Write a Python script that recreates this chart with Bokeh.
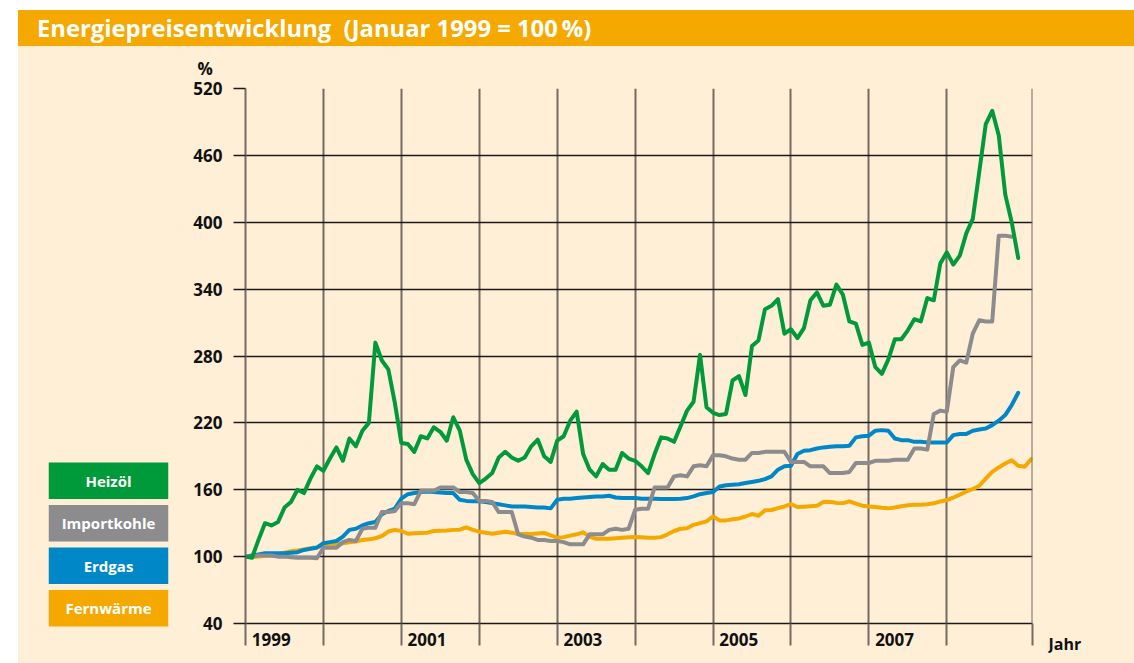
from bokeh.plotting import figure
from bokeh.models import (ColumnDataSource, Range1d, FactorRange, FixedTicker, Span, Div,
                          Spacer, CustomJSTickFormatter)
from bokeh.layouts import column, row
from bokeh.core.properties import value
from bokeh.embed import file_html
from bokeh.resources import INLINE

# ---------------- data (monthly, from January 1999) ----------------
start_year = 1999
heizoel = [100, 99, 115, 130, 128, 131, 144, 149, 160, 157,
           170, 181, 177, 188, 198, 186, 206, 199, 213, 220,
           292, 276, 268, 238, 202, 201, 194, 208, 206, 216,
           212, 204, 225, 213, 187, 174, 166, 170, 175, 189,
           194, 189, 186, 189, 199, 205, 190, 185, 204, 208,
           222, 230, 192, 178, 172, 183, 178, 178, 193, 188,
           186, 181, 175, 192, 207, 206, 203, 217, 231, 239,
           281, 234, 229, 227, 228, 258, 262, 245, 289, 294,
           322, 325, 331, 300, 304, 296, 305, 330, 337, 325,
           326, 344, 335, 311, 309, 290, 292, 270, 264, 277,
           295, 295, 303, 313, 311, 332, 330, 363, 373, 362,
           370, 390, 403, 445, 488, 500, 478, 425, 400, 368]
importkohle = [100, 100, 101, 101, 101, 100, 100, 99.5, 99, 99,
               99, 98.5, 108, 108, 108, 113, 115, 114, 125, 126,
               126, 140, 140, 141, 148, 148, 147, 159, 159, 159,
               162, 162, 162, 158, 158, 157, 150, 150, 149, 140,
               140, 140, 120, 118, 117, 115, 115, 114, 114, 113,
               111, 111, 111, 120, 120, 120, 124, 125, 124, 125,
               142, 143, 143, 162, 162, 162, 172, 173, 172, 181,
               182, 181, 191, 191, 190, 188, 187, 187, 193, 193,
               194, 194, 194, 194, 185, 185, 185, 181, 181, 181,
               175, 175, 175, 176, 184, 184, 184, 186, 186, 186,
               187, 187, 187, 197, 197, 196, 228, 231, 230, 270,
               276, 274, 300, 312, 311, 311, 388, 388, 387]
erdgas = [100, 101, 102, 103, 103, 103, 103, 103.5, 104, 106,
          107, 108, 112, 113, 114, 118, 124, 125, 128, 130,
          131, 138, 141, 143, 152, 156, 157, 158, 158.5, 158,
          157.5, 157, 157, 151, 150, 149.6, 149.6, 149, 148, 147,
          146, 145, 145, 145, 144.5, 144, 144, 143.3, 151, 152,
          152, 152.5, 153, 153.5, 154, 154, 154.6, 153, 152.6, 152.6,
          152.5, 152, 152, 152, 151.8, 151.8, 151.8, 152, 152.5, 154,
          156, 157, 158, 163, 164, 164.5, 165, 166, 167, 168,
          169.5, 172, 178, 181, 181.5, 192, 195, 195.5, 197, 198,
          198.5, 199, 199, 199.5, 207, 208, 208.5, 213, 213.5, 213,
          206, 204.5, 204.5, 203, 203, 202.5, 202.5, 202.5, 202.4, 209,
          210, 210, 213, 214, 215, 218, 222, 227, 236, 247]
fernwaerme = [100, 99.5, 100, 100.5, 101.5, 102, 103.5, 104.8, 105.5, 106.5,
              107.5, 108.5, 110, 110.5, 111.2, 112, 112.8, 113.5, 115, 115.5,
              116.5, 118.5, 122.5, 124, 123, 120.5, 121, 121.2, 121.5, 123,
              123.3, 123.5, 124, 124.2, 126.3, 124, 122.4, 121.5, 120.5, 121.5,
              122.4, 121.5, 120.3, 120.3, 120.3, 120.8, 121.2, 119, 117, 117.5,
              118.8, 120, 121.8, 118, 116, 116, 116, 116.5, 117, 117.3,
              117.5, 117.3, 117, 117, 117.5, 120, 123, 125, 125.4, 128.5,
              130, 131.6, 136, 132.5, 132.5, 133.5, 134.3, 136, 138.2, 136.7,
              141.5, 141.8, 143.5, 145, 147.2, 144.5, 144.8, 145.2, 145.7, 149,
              149.3, 148.2, 148, 149.6, 147.5, 145.7, 145, 144.5, 143.8, 143.3,
              144, 145.2, 146, 146.5, 146.6, 147, 147.8, 149.5, 150.8, 153,
              155.5, 158.5, 160.5, 163.6, 170, 176, 180, 183.5, 186.5, 181.5,
              180.6, 187.5]

series_names = ["Heizöl", "Importkohle", "Erdgas", "Fernwärme"]
series_values = [heizoel, importkohle, erdgas, fernwaerme]
series_colors = ["#009A3A", "#8C8C8E", "#0087C8", "#F5A800"]

y_ticks = [40, 100, 160, 220, 280, 340, 400, 460, 520]
grid_years = [1999, 2000, 2001, 2002, 2003, 2004, 2005, 2006, 2007, 2008]
label_years = [1999, 2001, 2003, 2005, 2007]

TITLE = "Energiepreisentwicklung&nbsp; (Januar 1999 = 100&#8201;%)"
Y_UNIT = "%"
X_UNIT = "Jahr"

# ---------------- style ----------------
CREAM = "#FFEFD7"
ORANGE = "#F5A800"
VGRID = "#756b62"
INK = "#111111"
FONT = "Open Sans"
X_END = 2009.1
LABEL_SHIFT = 0.33

title_div = Div(
    text=f'<div style="padding-left:19px; line-height:36px; white-space:nowrap;">{TITLE}</div>',
    width=1116, height=36, margin=0,
    styles={"background-color": ORANGE, "color": "white", "font-family": FONT,
            "font-weight": "bold", "font-size": "23.8px"})

# ---------------- legend (boxes with labels) ----------------
leg = figure(width=162, height=617, x_range=Range1d(0, 1),
             y_range=FactorRange(factors=list(reversed(series_names)), range_padding=0),
             toolbar_location=None, output_backend="svg",
             x_axis_location=None, y_axis_location=None,
             min_border_left=30, min_border_right=12, min_border_top=413, min_border_bottom=34)
leg.frame_align = False
leg.background_fill_color = CREAM
leg.border_fill_color = CREAM
leg.outline_line_color = None
leg.grid.visible = False
leg_src = ColumnDataSource(dict(name=series_names, color=series_colors))
leg.rect(x=0.5, y="name", width=1, height=0.86, fill_color="color", line_color=None, source=leg_src)
leg.text(x=0.5, y="name", text="name", text_align="center", text_baseline="middle",
         text_color="white", text_font=value(FONT), text_font_style="bold",
         text_font_size="15px", source=leg_src)

# ---------------- main chart ----------------
p = figure(width=860, height=617, x_range=Range1d(start_year, X_END), y_range=Range1d(40, 520),
           toolbar_location=None, output_backend="svg", title=Y_UNIT,
           min_border_left=65, min_border_right=8, min_border_top=41, min_border_bottom=40)
p.frame_align = False
p.background_fill_color = CREAM
p.border_fill_color = CREAM
p.outline_line_color = None

p.title.align = "left"
p.title.offset = -48
p.title.standoff = 17
p.title.text_font = FONT
p.title.text_font_style = "bold"
p.title.text_font_size = "17px"
p.title.text_color = INK

# grids
p.ygrid.ticker = FixedTicker(ticks=y_ticks)
p.ygrid.grid_line_color = "#1a1a1a"
p.ygrid.grid_line_width = 1.3
p.xgrid.ticker = FixedTicker(ticks=grid_years)
p.xgrid.grid_line_color = VGRID
p.xgrid.grid_line_width = 2
p.add_layout(Span(location=X_END, dimension="height", line_color=VGRID, line_width=2))

# y axis
p.yaxis.ticker = FixedTicker(ticks=y_ticks)
p.yaxis.axis_line_color = VGRID
p.yaxis.axis_line_width = 2
p.yaxis.major_tick_in = 0
p.yaxis.major_tick_out = 12
p.yaxis.major_tick_line_color = "#1a1a1a"
p.yaxis.major_tick_line_width = 1.3
p.yaxis.minor_tick_line_color = None
p.yaxis.major_label_standoff = 11
p.yaxis.major_label_text_font = FONT
p.yaxis.major_label_text_font_style = "bold"
p.yaxis.major_label_text_font_size = "17px"
p.yaxis.major_label_text_color = INK

# x axis: invisible major ticks carry the year labels, minor ticks mark year boundaries
p.xaxis.ticker = FixedTicker(ticks=[y + LABEL_SHIFT for y in label_years],
                             minor_ticks=grid_years + [X_END - 0.001])
p.xaxis.formatter = CustomJSTickFormatter(code="return Math.floor(tick).toString()")
p.xaxis.axis_line_color = "#1a1a1a"
p.xaxis.axis_line_width = 1.3
p.xaxis.major_tick_line_color = None
p.xaxis.major_tick_in = 0
p.xaxis.major_tick_out = 0
p.xaxis.minor_tick_in = 0
p.xaxis.minor_tick_out = 22
p.xaxis.minor_tick_line_color = VGRID
p.xaxis.minor_tick_line_width = 2
p.xaxis.major_label_standoff = -13
p.xaxis.major_label_text_font = FONT
p.xaxis.major_label_text_font_style = "bold"
p.xaxis.major_label_text_font_size = "17px"
p.xaxis.major_label_text_color = INK

# lines (Fernwärme drawn first, Heizöl on top)
for name, vals, col in reversed(list(zip(series_names, series_values, series_colors))):
    xs = [start_year + i / 12 for i in range(len(vals))]
    src = ColumnDataSource(dict(x=xs, y=vals))
    p.line("x", "y", source=src, line_color=col, line_width=4, line_join="round", line_cap="round")

# ---------------- x unit ("Jahr") at the right of the axis ----------------
jf = figure(width=94, height=617, x_range=Range1d(0, 1), y_range=Range1d(0, 1),
            toolbar_location=None, output_backend="svg",
            x_axis_location=None, y_axis_location=None,
            min_border_left=8, min_border_right=0, min_border_top=584, min_border_bottom=7)
jf.frame_align = False
jf.background_fill_color = CREAM
jf.border_fill_color = CREAM
jf.outline_line_color = None
jf.grid.visible = False
jf.text(x=[0], y=[0.5], text=[X_UNIT], text_align="left", text_baseline="middle",
        text_color=INK, text_font=value(FONT), text_font_style="bold", text_font_size="16px")

body = row(leg, p, jf, styles={"background-color": CREAM})
layout = column(Spacer(width=1134, height=10),
                row(Spacer(width=18, height=653),
                    column(title_div, body, styles={"background-color": CREAM})))

open("out.html", "w").write(file_html(layout, INLINE))
